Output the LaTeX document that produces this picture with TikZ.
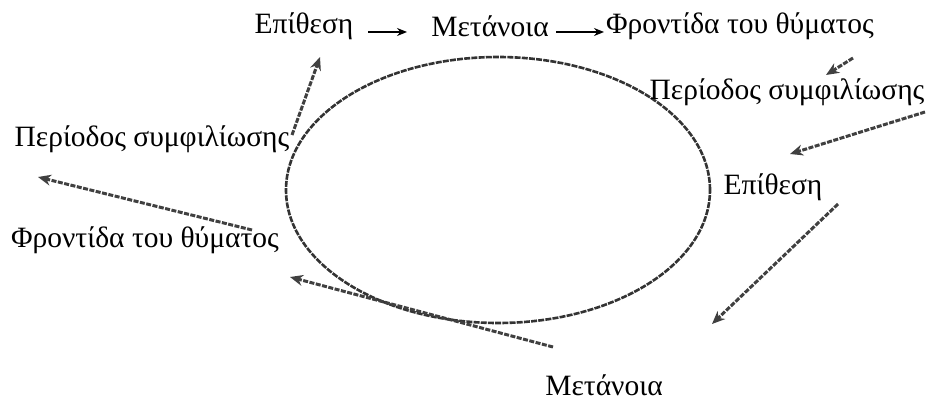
\documentclass[tikz,border=0pt]{standalone}
\usepackage{fontspec}
\setmainfont{Liberation Serif}
\usetikzlibrary{arrows.meta}
\begin{document}
\begin{tikzpicture}[x=1pt,y=-1pt,
  lbl/.style={inner sep=0pt, font=\fontsize{29.5}{32}\selectfont},
  cyc/.style={draw=black!80, line width=2.6pt, dash pattern=on 6pt off 1.2pt},
  flow/.style={draw=black!75, line width=3pt, dash pattern=on 5pt off 1.5pt, -{Stealth[length=13pt,width=11pt]}},
  thin/.style={draw=black, line width=1.2pt, -{Stealth[length=10pt,width=8pt]}}]
\useasboundingbox (0,0) rectangle (926,403);
% cycle
\draw[cyc] (498,190) ellipse [x radius=212pt, y radius=133pt];
% labels
\node[lbl] (e1) at (304,26) {Επίθεση};
\node[lbl] (m1) at (490,26) {Μετάνοια};
\node[lbl] (f1) at (740,26) {Φροντίδα του θύματος};
\node[lbl] (p1) at (787,92) {Περίοδος συμφιλίωσης};
\node[lbl] (e2) at (773,187) {Επίθεση};
\node[lbl] (m2) at (604,385) {Μετάνοια};
\node[lbl] (f2) at (145,240) {Φροντίδα του θύματος};
\node[lbl] (p2) at (152,139) {Περίοδος συμφιλίωσης};
% arrow end points
\coordinate (a1s) at (368,32); \coordinate (a1e) at (407,32);
\coordinate (a2s) at (556,32); \coordinate (a2e) at (604,32);
\coordinate (a3s) at (853,58); \coordinate (a3e) at (826,75);
\coordinate (a4s) at (925,112); \coordinate (a4e) at (790,154);
\coordinate (a5s) at (838,204); \coordinate (a5e) at (712,324);
\coordinate (a6s) at (553,347); \coordinate (a6e) at (290,277);
\coordinate (a7s) at (252,230); \coordinate (a7e) at (38,177);
\coordinate (a8s) at (292,135); \coordinate (a8e) at (320,57);
\draw[thin] (a1s) -- (a1e);
\draw[thin] (a2s) -- (a2e);
\draw[flow] (a3s) -- (a3e);
\draw[flow] (a4s) -- (a4e);
\draw[flow] (a5s) -- (a5e);
\draw[flow] (a6s) -- (a6e);
\draw[flow] (a7s) -- (a7e);
\draw[flow] (a8s) -- (a8e);
\end{tikzpicture}
\end{document}
